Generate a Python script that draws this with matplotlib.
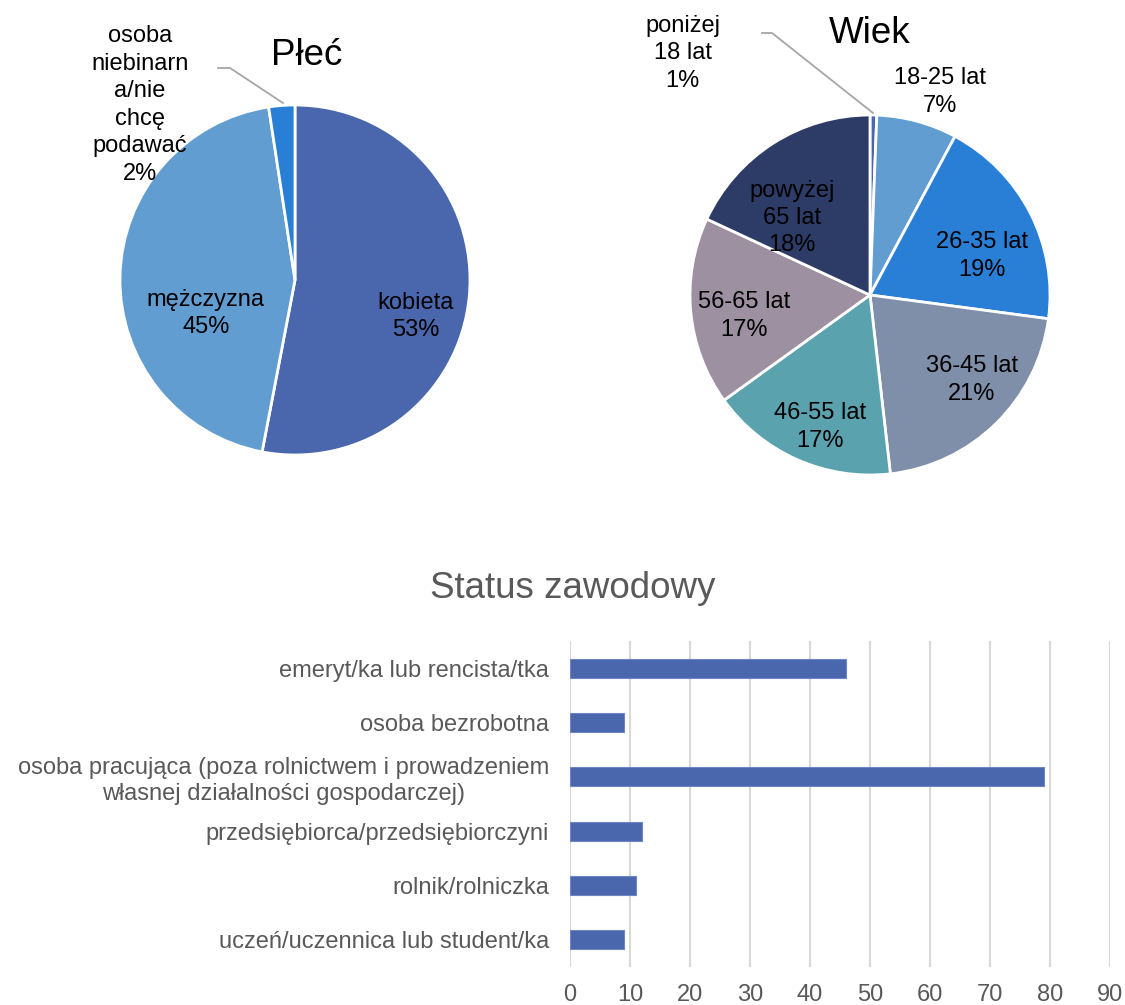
import numpy as np
import matplotlib.pyplot as plt

plt.rcParams['font.family'] = ['Liberation Sans', 'DejaVu Sans']

# --- data ---
gender_labels = ['kobieta', 'mężczyzna', 'osoba\nniebinarn\na/nie\nchcę\npodawać']
gender_counts = [88, 74, 4]
gender_colors = ['#4A66AC', '#629DD1', '#297FD5']

age_labels = ['poniżej\n18 lat', '18-25 lat', '26-35 lat', '36-45 lat',
              '46-55 lat', '56-65 lat', 'powyżej\n65 lat']
age_counts = [1, 12, 32, 35, 28, 28, 30]
age_colors = ['#4A66AC', '#629DD1', '#297FD5', '#7F8FA9',
              '#5AA2AE', '#9D90A0', '#2C3C66']

status_labels = ['emeryt/ka lub rencista/tka',
                 'osoba bezrobotna',
                 'osoba pracująca (poza rolnictwem i prowadzeniem\nwłasnej działalności gospodarczej)',
                 'przedsiębiorca/przedsiębiorczyni',
                 'rolnik/rolniczka',
                 'uczeń/uczennica lub student/ka']
status_values = [46, 9, 79, 12, 11, 9]

# label placement (pie data units, radius = 1)
gender_label_pos = [(0.69, -0.21), (-0.51, -0.19), (-0.886, 1.0)]
age_label_pos = [(-1.04, 1.344), (0.389, 1.128), (0.622, 0.217), (0.567, -0.472),
                 (-0.278, -0.733), (-0.70, -0.117), (-0.433, 0.428)]

W, H = 1125, 1005
fig = plt.figure(figsize=(W / 100, H / 100), dpi=100)


def px_axes(cx, cy, r):
    return fig.add_axes([(cx - r) / W, 1 - (cy + r) / H, 2 * r / W, 2 * r / H])


def draw_pie(ax, counts, colors, labels, label_pos, title, title_y, leader):
    total = sum(counts)
    ax.pie(counts, colors=colors, startangle=90, counterclock=False,
           wedgeprops=dict(edgecolor='white', linewidth=2.0))
    ax.set_xlim(-1, 1)
    ax.set_ylim(-1, 1)
    ax.set_aspect('equal')
    ax.axis('off')
    for lab, c, (x, y) in zip(labels, counts, label_pos):
        pct = round(100 * c / total)
        ax.text(x, y, f'{lab}\n{pct}%', ha='center', va='center', fontsize=17,
                color='black', linespacing=1.32, clip_on=False)
    ax.text(title[1], title_y, title[0], ha='center', va='baseline', fontsize=26.5,
            clip_on=False)
    if leader is not None:
        ax.plot(leader[0], leader[1], color='#A6A6A6', lw=1.3, clip_on=False)


# Płeć pie: centre (295, 280), r 175 px
ax1 = px_axes(295, 280, 175)
draw_pie(ax1, gender_counts, gender_colors, gender_labels, gender_label_pos,
         ('Płeć', 0.069), 1.229,
         ([(218 - 295) / 175, (230 - 295) / 175, (283 - 295) / 175],
          [(280 - 68) / 175, (280 - 68) / 175, (280 - 103) / 175]))

# Wiek pie: centre (870, 295), r 180 px
ax2 = px_axes(870, 295, 180)
draw_pie(ax2, age_counts, age_colors, age_labels, age_label_pos,
         ('Wiek', 0.0), 1.40,
         ([(762 - 870) / 180, (772 - 870) / 180, (873 - 870) / 180],
          [(295 - 33) / 180, (295 - 33) / 180, (295 - 113) / 180]))

# Status zawodowy bars
ax3 = fig.add_axes([570 / W, 1 - 967 / H, 540 / W, 326 / H])
y = np.arange(len(status_values))
ax3.barh(y, status_values, height=0.35, color='#4A66AC', edgecolor='#6E86C4',
         linewidth=0.8, zorder=3)
ax3.set_ylim(len(status_values) - 0.5, -0.5)
ax3.set_xlim(0, 90)
ax3.set_xticks(range(0, 91, 10))
ax3.set_yticks(y)
ax3.set_yticklabels(status_labels)
for t in ax3.get_yticklabels():
    t.set_multialignment('center')
ax3.tick_params(axis='y', length=0, pad=15, labelsize=17, labelcolor='#595959')
ax3.tick_params(axis='x', length=0, pad=12, labelsize=17, labelcolor='#595959')
ax3.grid(axis='x', color='#D9D9D9', linewidth=1.5, zorder=0)
for s in ax3.spines.values():
    s.set_visible(False)
fig.text(573 / W, 1 - 588 / H, 'Status zawodowy', ha='center', va='center',
         fontsize=26.5, color='#595959')

fig.savefig('out.png', dpi=100)
